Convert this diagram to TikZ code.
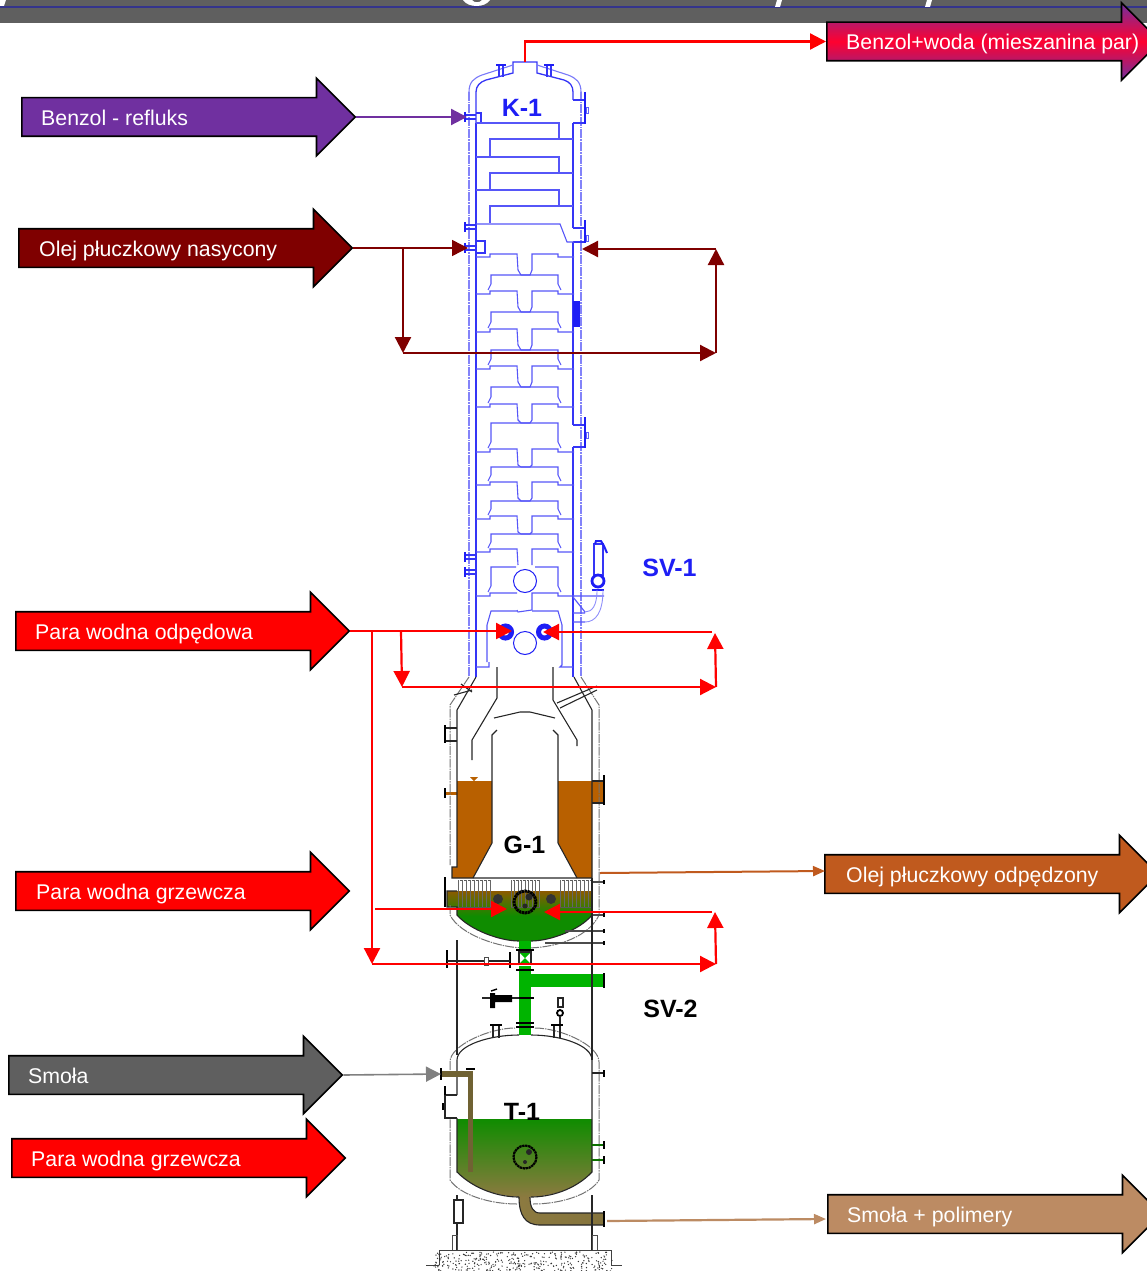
\documentclass[tikz,border=0pt]{standalone}
\usepackage{fontspec}
\setmainfont{Liberation Sans}
\usetikzlibrary{
    arrows.meta,
    positioning,
    shapes.arrows,
}
\definecolor{columnblue}{HTML}{1E1EF5}
\definecolor{headergray}{HTML}{5F5F5F}
\definecolor{headerblue}{HTML}{34348C}
\definecolor{refluxviolet}{HTML}{7030A0}
\definecolor{richoil}{HTML}{7F0000}
\definecolor{mixred}{HTML}{FF0030}
\definecolor{steamred}{HTML}{FF0000}
\definecolor{leanoil}{HTML}{C05A1E}
\definecolor{tarpipe}{HTML}{808080}
\definecolor{tarbrown}{HTML}{BC8B63}
\definecolor{oillevel}{HTML}{B86000}
\definecolor{sumpbrown}{HTML}{8C5A00}
\definecolor{sumpgreen}{HTML}{0F8C00}
\definecolor{linegreen}{HTML}{00B400}
\definecolor{tarolive}{HTML}{8C7A40}
\begin{document}
\begin{tikzpicture}[
        x=1pt, y=-1pt,
        flowarrow/.style={
            single arrow, draw=black, line width=1.6pt, anchor=tail,
            inner xsep=0pt, inner ysep=18.5pt, text height=0pt, text depth=0pt,
            minimum height=333.5pt, single arrow head extend=19.5pt,
            single arrow head indent=0pt,
        },
        flowtext/.style={
            inner sep=0pt, anchor=west, text=white,
            text height=16pt, text depth=0pt,
            font=\fontsize{21.3}{25}\selectfont,
        },
        tagtext/.style={inner sep=0pt, font=\fontsize{25}{29}\selectfont\bfseries},
        stream/.style={line width=2.2pt, -{Triangle[length=16pt,width=16pt]}},
        coltray/.style={columnblue!75, line width=1.1pt},
        colwall/.style={columnblue!90, line width=1.3pt},
        coljacket/.style={columnblue!55, line width=1.1pt, dash pattern=on 9pt off 1pt on 1.5pt off 1pt},
        wall/.style={black!85, line width=1.1pt},
        jacket/.style={black!55, line width=1pt, dash pattern=on 9pt off 1pt on 1.5pt off 1pt},
    ]
    \useasboundingbox (0,0) rectangle (1147,1271);

    \fill[headergray] (0,0) rectangle (1147,23);
    \fill[headerblue] (0,6) rectangle (1147,8.5);
    \fill[white] (0,0) -- (6,0) -- (4,6) -- (0,6) -- cycle;
    \fill[white] (463,0) .. controls (468,8) and (485,8) .. (490,0) -- (482,0)
        .. controls (480,3) and (474,3) .. (472,0) -- cycle;
    \foreach \hx in {775,925} {
        \fill[white] (\hx+2,0) -- (\hx+7,0) -- (\hx+5,7) -- (\hx,7) -- cycle;
    }

    % column
    \draw[colwall] (476,123) -- (476,92) .. controls (476,86) and (480,82) .. (486,80) -- (513,73)
        -- (513,62) -- (537,62) -- (537,73) -- (564,80) .. controls (570,82) and (573,86) .. (573,92) -- (573,100);
    \draw[columnblue!60, line width=1.1pt] (469,92) .. controls (469,82) and (474,78) .. (482,75) -- (513,65)
        (537,65) -- (568,75) .. controls (576,78) and (581,82) .. (581,92);
    \draw[colwall] (476,123) -- (476,677) (573,123) -- (573,228) (573,242) -- (573,425)
        (573,447) -- (573,677);
    \draw[coljacket] (469,92) -- (469,677) (581,92) -- (581,677);
    \foreach \py/\qy in {100/123,228/242,425/447} {
        \draw[colwall] (573,\py) -- (585,\py) (573,\qy) -- (585,\qy);
        \draw[columnblue, line width=2pt] (585,\py-8) -- (585,\qy+1);
        \draw[columnblue!70, line width=.8pt] (586,\py+7) rectangle (588,\py+13);
    }
    \foreach \cx in {501,549} {
        \draw[colwall] (\cx-2,77) -- (\cx-2,66) (\cx+2,77) -- (\cx+2,66);
        \draw[columnblue, line width=2pt] (\cx-5,65) -- (\cx+5,65);
    }
    \fill[columnblue] (573,301) rectangle (580,327);
    \foreach \ny in {117,227,248,557,572} {
        \draw[colwall] (466,\ny-2) -- (476,\ny-2) (466,\ny+2) -- (476,\ny+2);
        \draw[columnblue, line width=2pt] (465,\ny-5) -- (465,\ny+5);
    }
    \draw[colwall] (476,113) -- (481,113) -- (481,122);
    \draw[colwall] (476,241) -- (485,241) -- (485,253) -- (476,253);

    \foreach \ty in {123,157,190} {
        \draw[coltray] (476,\ty) -- (559,\ty) -- (559,\ty+16);
        \draw[coltray] (573,\ty+16) -- (490,\ty+16) -- (490,\ty+33);
    }
    \draw[coltray] (476,224) -- (560,224) -- (567,242) -- (574,242);
    \foreach \ty/\tb/\ny in {257/275/294,294/312/332,332/350/369,369/387/407,407/423/452,452/467/485,485/501/519,519/534/552} {
        \draw[coltray] (476,\ty) -- (490,\ty) -- (490,\ty-3) -- (517,\ty-3) -- (518,\ty+13)
            -- (521,\tb) -- (530,\tb) -- (532,\ty+13) -- (532,\ty-3) -- (558,\ty-3) -- (558,\ty) -- (574,\ty);
        \draw[coltray] (488,\ny-4) -- (491,\ny-10) -- (491,\tb) -- (558,\tb) -- (558,\ny-10) -- (561,\ny-4);
    }
    \draw[coltray] (476,552) -- (490,552) -- (490,549) -- (517,549) -- (518,565)
        (574,552) -- (558,552) -- (558,549) -- (532,549) -- (532,565);
    \draw[coltray] (488,592) -- (491,586) -- (491,567) -- (516,567) (535,567) -- (558,567) -- (558,586) -- (561,592);
    \draw[coltray] (476,596) -- (490,596) -- (490,593) -- (517,593) (574,596) -- (558,596) -- (558,593) -- (532,593) -- (532,610) -- (518,612) -- (517,610);
    \draw[coltray] (489,662) -- (489,667) -- (476,667) (487,662) -- (487,625) -- (491,611) -- (517,611)
        (532,611) -- (558,611) -- (562,625) -- (562,665) -- (560,667) -- (573,667);
    \draw[columnblue, line width=1pt] (525,581) circle[radius=11.5] (525,643) circle[radius=11.5];
    \draw[columnblue, line width=5pt] (505.5,632) circle[radius=6] (544.5,632) circle[radius=6];

    \draw[colwall] (594,575) rectangle (603,544);
    \draw[columnblue, line width=2pt] (595,544) -- (596,541) -- (601,541) -- (604,546) -- (607,553);
    \draw[columnblue, line width=2.8pt] (598,581) circle[radius=6];
    \draw[columnblue, line width=2pt] (592,590) -- (604,590);
    \draw[coltray] (573,596) -- (604,596) (573,597) -- (585,612) (573,613) -- (585,613) (573,622) -- (585,622);
    \draw[columnblue!50, line width=.9pt] (585,622) .. controls (596,622) and (603,612) .. (603,590)
        (585,612) .. controls (592,612) and (597,606) .. (597,590);

    % stripper
    \fill[oillevel] (457,781) -- (492,781) -- (492,843) -- (473,878) -- (452,878) -- (452,867) -- (457,867) -- cycle;
    \fill[oillevel] (558,781) -- (592,781) -- (604,782) -- (604,803) -- (592,803) -- (592,878) -- (577,878) -- (558,843) -- cycle;
    \fill[oillevel] (470,777) -- (478,777) -- (474,781) -- cycle;
    \fill[oillevel] (445,792) rectangle (457,795);
    \shade[top color=sumpbrown, bottom color=sumpgreen, middle color=sumpgreen]
        (447,891) -- (592,891) -- (592,915) .. controls (580,930) and (550,941) .. (531,941) -- (519,941)
        .. controls (500,941) and (470,930) .. (457,915) -- (457,907) -- (447,907) -- cycle;

    \draw[wall] (476,677) -- (457,710) -- (457,867) -- (452,867) -- (452,878) -- (592,878) -- (592,710) -- (574,677);
    \draw[jacket] (469,677) -- (450,705) -- (450,865) (581,677) -- (599,705) -- (599,880);
    \draw[wall] (454,695) -- (472,690) (461,684) -- (472,692);
    \draw[wall] (557,703) -- (597,686) (560,708) -- (597,690);
    \draw[wall] (497,667) -- (497,698) -- (472,740) -- (472,760) (553,667) -- (553,700) -- (577,740) -- (577,746);
    \draw[wall] (494,718) -- (520,712) -- (530,712) -- (555,718);
    \draw[wall] (497,730) -- (492,735) -- (492,843) -- (473,878) (553,730) -- (558,735) -- (558,843) -- (577,878);
    \draw[wall] (446,728) -- (457,728) (446,741) -- (457,741);
    \draw[black, line width=2pt] (445,725) -- (445,743) (445,788) -- (445,798);
    \draw[wall] (592,781) -- (604,781) -- (604,803) -- (592,803);
    \draw[black, line width=2pt] (604,775) -- (604,805);
    \draw[wall] (457,891) -- (447,891) -- (447,907) -- (457,907) -- (457,915)
        .. controls (470,930) and (500,941) .. (519,941) (531,941) .. controls (550,941) and (580,930) .. (592,915) -- (592,880);
    \draw[black, line width=2pt] (445,877) -- (445,907);
    \draw[jacket] (450,905) -- (450,915) .. controls (460,935) and (500,948) .. (525,948)
        .. controls (560,948) and (590,935) .. (599,915) -- (599,880);

    \foreach \bx/\bw in {458/32,511/28,560/32} {
        \draw[black!65, line width=.6pt] (\bx,880) rectangle (\bx+\bw,907);
        \foreach \bi in {0,.125,...,1} {
            \draw[white, line width=1.4pt] (\bx+\bi*\bw+1.2,880) -- (\bx+\bi*\bw+1.2,891);
            \draw[black!60, line width=.6pt] (\bx+\bi*\bw,880) -- (\bx+\bi*\bw,907);
        }
    }
    \fill[black!80] (498,899) circle[radius=5] (551,899) circle[radius=5];
    \draw[black, line width=3pt, dash pattern=on 2.4pt off .6pt] (525,902) circle[radius=11];
    \fill[black!85] (529,897) circle[radius=3.5] (525,906) circle[radius=2.5];
    \foreach \oy in {882,915,931,943} {
        \draw[black!70, line width=1.4pt] (592,\oy) -- (604,\oy);
        \draw[black, line width=1.4pt] (604,\oy-2) -- (604,\oy+2);
    }
    \draw[black!70, line width=1.4pt] (545,943) -- (592,943) (565,931) -- (592,931);

    % draw-off line and valves
    \fill[linegreen] (519,941) rectangle (531,950);
    \fill[linegreen] (519,952) -- (531,952) -- (525,958) -- (531,964) -- (519,964) -- (525,958) -- cycle;
    \fill[linegreen] (519,966) rectangle (531,1035);
    \fill[linegreen] (531,974) rectangle (603,987);
    \draw[wall] (519,952) rectangle (531,964);
    \foreach \fy in {950,970,998,1023,1027} {
        \draw[black, line width=2pt] (516,\fy) -- (534,\fy);
    }
    \draw[black, line width=2pt] (604,973) -- (604,988);
    \draw[black, line width=2pt] (447,950) -- (447,968) (510,952) -- (510,968);
    \draw[wall] (447,961) -- (510,961);
    \draw[black!70, fill=white, line width=.7pt] (484,957) rectangle (488,965);
    \draw[black!85, line width=1.2pt] (482,998) -- (519,998);
    \fill[black] (490,993) rectangle (495,1008) (495,995) rectangle (512,1002);
    \draw[black, line width=1.4pt] (491,991) -- (497,989);
    \draw[wall, fill=white] (558,998) rectangle (563,1007);
    \draw[black, line width=1.8pt] (560,1013) circle[radius=3];
    \draw[wall] (560,1016) -- (560,1030);

    % receiver
    \shade[top color=sumpgreen, bottom color=tarolive]
        (457,1119) -- (592,1119) -- (592,1172) .. controls (575,1190) and (550,1197) .. (525,1197)
        .. controls (500,1197) and (475,1190) .. (457,1172) -- cycle;
    \draw[wall] (457,1095) -- (457,1060) .. controls (457,1045) and (490,1035) .. (519,1035)
        (531,1035) .. controls (560,1035) and (592,1045) .. (592,1060) -- (592,1172)
        .. controls (575,1190) and (550,1197) .. (531,1197) (519,1197)
        .. controls (500,1197) and (475,1190) .. (457,1172) -- (457,1118);
    \draw[jacket] (450,1070) -- (450,1062) .. controls (450,1045) and (490,1028) .. (515,1028)
        (535,1028) .. controls (560,1028) and (599,1045) .. (599,1062) -- (599,1180)
        .. controls (590,1195) and (560,1204) .. (533,1204)
        (517,1204) .. controls (490,1204) and (460,1195) .. (450,1180) -- (450,1118);
    \foreach \dx/\dw in {492/8,553/8} {
        \draw[wall, fill=white] (\dx+1,1038) -- (\dx+1,1026) (\dx+\dw-1,1038) -- (\dx+\dw-1,1026);
        \draw[black, line width=1.4pt] (\dx-2,1025) -- (\dx+\dw+2,1025);
    }
    \draw[wall] (457,1095) -- (445,1095) -- (445,1118) -- (457,1118);
    \draw[black, line width=2pt] (445,1086) -- (445,1095) (443,1103) -- (443,1110);
    \fill[tarolive!80!black] (441,1071) rectangle (472,1077);
    \fill[tarolive!80!black] (468,1071) rectangle (473,1172);
    \draw[black, line width=2pt] (441,1068) -- (441,1080);
    \draw[black, line width=1.4pt] (466,1069) -- (475,1069);
    \shade[left color=tarolive, right color=tarolive!95!black] (519,1197)
        .. controls (519,1215) and (525,1225) .. (540,1225) -- (603,1225) -- (603,1213) -- (540,1213)
        .. controls (533,1213) and (530,1207) .. (530,1197) -- cycle;
    \draw[wall] (519,1197) .. controls (519,1215) and (525,1225) .. (540,1225) -- (603,1225)
        (603,1213) -- (540,1213) .. controls (533,1213) and (530,1207) .. (530,1197);
    \draw[black, line width=2pt] (604,1211) -- (604,1227);
    \draw[wall] (592,1073) -- (604,1073);
    \draw[black, line width=1.4pt] (604,1070) -- (604,1077);
    \foreach \ky in {1145,1160} {
        \draw[sumpgreen!80!black, line width=2.2pt] (592,\ky) -- (604,\ky);
        \draw[black, line width=1.4pt] (604,\ky-4) -- (604,\ky+4);
    }
    \draw[black, line width=2.2pt, dash pattern=on 2.4pt off .6pt] (525,1157) circle[radius=11.5];
    \fill[black!85] (529,1152) circle[radius=3] (525,1162) circle[radius=2];

    \draw[wall] (457,940) -- (457,1055) (592,878) -- (592,1060) (457,1195) -- (457,1250) (592,1195) -- (592,1250);
    \draw[wall, fill=white] (454,1200) rectangle (463,1223);
    \draw[black!70, line width=1pt] (452,1235) rectangle (457,1250) (592,1235) rectangle (597,1250);
    \draw[black!75, line width=1pt] (439,1250) -- (611,1250) (439,1250) -- (439,1265) (611,1250) -- (611,1265)
        (426,1265) -- (439,1265) (611,1265) -- (622,1265);
    \pgfmathsetseed{41}
    \foreach \sk in {1,...,340} {
        \pgfmathsetmacro\sx{434+178*rnd}
        \pgfmathsetmacro\sy{1252+19*rnd}
        \fill[black!80] (\sx,\sy) circle[radius=.7];
    }

    \node[tagtext, text=columnblue] (kone) at (522,108) {K-1};
    \node[tagtext, text=columnblue] (svone) at (669.5,568) {SV-1};
    \node[tagtext] (gone) at (524.5,845) {G-1};
    \node[tagtext] (svtwo) at (670.5,1009) {SV-2};
    \node[tagtext] (tone) at (522,1112) {T-1};

    % flow arrows
    \node[flowarrow, fill=refluxviolet] (reflux) at (21,117) {};
    \node[flowtext, right=20pt of reflux.tail] (refluxtext) {Benzol - refluks};
    \node[flowarrow, fill=richoil] (richin) at (18,248) {};
    \node[flowtext, right=21pt of richin.tail] (richintext) {Olej płuczkowy nasycony};
    \node[flowarrow, fill=steamred] (strip) at (15,631) {};
    \node[flowtext, right=20pt of strip.tail] (striptext) {Para wodna odpędowa};
    \node[flowarrow, fill=steamred] (heat) at (15,891) {};
    \node[flowtext, right=21pt of heat.tail] (heattext) {Para wodna grzewcza};
    \node[flowarrow, fill=headergray] (tarin) at (8,1075) {};
    \node[flowtext, right=20pt of tarin.tail] (tarintext) {Smoła};
    \node[flowarrow, fill=steamred] (heattwo) at (11,1158) {};
    \node[flowtext, right=20pt of heattwo.tail] (heattwotext) {Para wodna grzewcza};
    \node[flowarrow, top color=refluxviolet, bottom color=refluxviolet, middle color=mixred] (mix) at (826,41.5) {};
    \node[flowtext, right=20pt of mix.tail] (mixtext) {Benzol+woda (mieszanina par)};
    \node[flowarrow, fill=leanoil] (leanout) at (824,874) {};
    \node[flowtext, right=22pt of leanout.tail] (leanouttext) {Olej płuczkowy odpędzony};
    \node[flowarrow, fill=tarbrown] (tarout) at (827,1214) {};
    \node[flowtext, right=20pt of tarout.tail] (tarouttext) {Smoła + polimery};

    \coordinate (topnozzle) at (525,62);
    \coordinate (refluxin) at (467,117);
    \coordinate (richleft) at (468,248);
    \coordinate (richdrop) at (403,248);
    \coordinate (richlow) at (403,353);
    \coordinate (richcorner) at (716,353);
    \coordinate (richtop) at (716,249);
    \coordinate (richright) at (582,249);
    \coordinate (stripleft) at (512,631);
    \coordinate (stripdrop) at (401,631);
    \coordinate (striplow) at (402,687);
    \coordinate (stripcorner) at (716,687);
    \coordinate (striptop) at (715,633);
    \coordinate (stripstart) at (712,632);
    \coordinate (stripright) at (543,632);
    \coordinate (longdrop) at (372,631);
    \coordinate (longlow) at (372,964);
    \coordinate (longcorner) at (716,964);
    \coordinate (longtop) at (715,912);
    \coordinate (heatstart) at (712,912);
    \coordinate (heatright) at (544,912);
    \coordinate (heatfrom) at (375,909);
    \coordinate (heatleft) at (507,909);
    \coordinate (leanfrom) at (600,873);
    \coordinate (leanend) at (825,871);
    \coordinate (tarinend) at (441,1074);
    \coordinate (tarfrom) at (607,1221);
    \coordinate (tarend) at (826,1219);

    \draw[stream, red] (topnozzle) |- (mix.tail);
    \draw[stream, refluxviolet] (reflux.tip) -- (refluxin);
    \draw[stream, richoil, line width=1.4pt] (richin.tip) -- (richleft);
    \draw[stream, richoil] (richdrop) -- (richlow);
    \draw[stream, richoil] (richlow) -- (richcorner);
    \draw[stream, richoil] (richcorner) -- (richtop);
    \draw[stream, richoil] (richtop) -- (richright);
    \draw[stream, steamred] (strip.tip) -- (stripleft);
    \draw[stream, steamred] (stripdrop) -- (striplow);
    \draw[stream, steamred] (striplow) -- (stripcorner);
    \draw[stream, steamred] (stripcorner) -- (striptop);
    \draw[stream, steamred] (stripstart) -- (stripright);
    \draw[stream, steamred] (longdrop) -- (longlow);
    \draw[stream, steamred] (longlow) -- (longcorner);
    \draw[stream, steamred] (longcorner) -- (longtop);
    \draw[stream, steamred] (heatstart) -- (heatright);
    \draw[stream, steamred] (heatfrom) -- (heatleft);
    \draw[leanoil, line width=2pt, -{Triangle[length=12pt,width=10pt]}] (leanfrom) -- (leanend);
    \draw[tarpipe, line width=1.6pt, -{Triangle[length=15pt,width=15pt]}] (tarin.tip) -- (tarinend);
    \draw[tarbrown, line width=2.2pt, -{Triangle[length=12pt,width=10pt]}] (tarfrom) -- (tarend);
\end{tikzpicture}
\end{document}
